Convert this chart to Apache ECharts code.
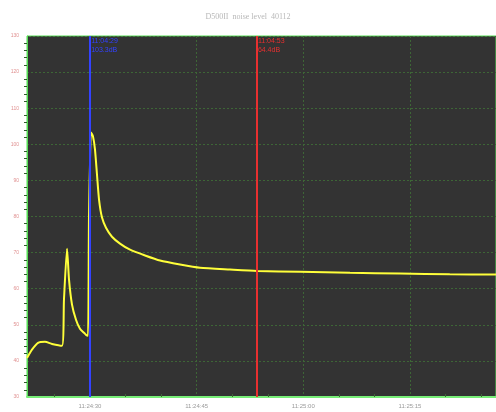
<!DOCTYPE html>
<html lang="en">
<head>
    <meta charset="UTF-8">
    <title>D500II noise level</title>
    <style>
        * { padding: 0; margin: 0; }
        html, body { background: #fff; }
        .box { width: 496px; height: 412px; }
    </style>
</head>
<body>
    <div class="box" id="myChart"></div>
    <script src="https://cdn.jsdelivr.net/npm/echarts@6/dist/echarts.min.js"></script>
    <script>
        // seconds after 11:24:00
        let times = [21.14, 21.84, 22.69, 23.67, 24.66, 26.06, 26.34, 26.77, 27.05, 27.47, 28.03, 28.59,
            29.16, 29.44, 29.72, 29.86, 30.14, 30.42, 30.70, 30.98, 31.27, 31.69, 32.25, 33.09, 34.22,
            35.63, 37.74, 39.85, 42.66, 45.47, 49.69, 53.49, 59.54, 66.57, 73.6, 80.6, 87.1];
        let levels = [40.8, 43.1, 45.0, 45.3, 44.7, 44.2, 57.0, 71.1, 62.5, 55.6, 51.4, 48.9,
            47.8, 47.2, 47.0, 80.0, 103.3, 102.2, 98.6, 91.7, 84.7, 79.7, 76.9, 74.4, 72.5,
            70.8, 69.2, 67.8, 66.7, 65.8, 65.3, 64.9, 64.7, 64.4, 64.2, 64.0, 63.9];
        let xLabelValues = [30, 45, 60, 75];
        let xLabelTexts = ["11:24:30", "11:24:45", "11:25:00", "11:25:15"];
        let xMinorTicks = [25, 35, 40, 50, 55, 65, 70, 80, 85];
        let cursorTimes = [29.95, 53.4];
        let cursorTexts = ["11:04:29\n103.3dB", "11:04:53\n64.4dB"];
        let cursorColors = ["#3342ff", "#e83030"];

        let xMin = 21.14, xMax = 87.1;

        let myChart = echarts.init(document.getElementById('myChart'));
        let option = {
            backgroundColor: "#ffffff",
            animation: false,
            title: {
                text: "D500II  noise level  40112",
                left: "center",
                top: 8,
                textStyle: {
                    color: "#b8b8b8",
                    fontFamily: "Liberation Serif",
                    fontWeight: "normal",
                    fontSize: 8
                }
            },
            grid: {
                left: 27,
                right: 0,
                top: 36,
                bottom: 15,
                show: true,
                backgroundColor: "#333333",
                borderColor: "#55dd55",
                borderWidth: 1
            },
            xAxis: [{
                    type: "value",
                    min: xMin,
                    max: xMax,
                    axisLine: { lineStyle: { color: "#77ee77", width: 2 } },
                    axisTick: { show: false, customValues: xLabelValues },
                    axisLabel: {
                        customValues: xLabelValues,
                        color: "#9a9a9a",
                        fontSize: 6,
                        margin: 6,
                        formatter: function (v) {
                            return xLabelTexts[xLabelValues.indexOf(v)];
                        }
                    },
                    splitLine: {
                        show: true,
                        lineStyle: { color: "#3d6636", type: [2, 2], width: 1 }
                    }
                },
                {
                    type: "value",
                    min: xMin,
                    max: xMax,
                    position: "bottom",
                    axisLine: { show: false },
                    axisTick: {
                        customValues: xMinorTicks,
                        inside: true,
                        length: 3,
                        lineStyle: { color: "#3d6636" }
                    },
                    axisLabel: { show: false },
                    splitLine: { show: false }
                }
            ],
            yAxis: {
                type: "value",
                min: 30,
                max: 130,
                interval: 10,
                axisLine: { show: true, lineStyle: { color: "#55dd55", width: 1 } },
                axisTick: { show: false },
                minorTick: {
                    show: true,
                    splitNumber: 5,
                    length: 3,
                    lineStyle: { color: "#2f5a2a" }
                },
                axisLabel: {
                    color: "#e09090",
                    fontSize: 5,
                    margin: 8
                },
                splitLine: {
                    show: true,
                    lineStyle: { color: "#3d6636", type: [2, 2], width: 1 }
                }
            },
            series: [{
                    type: "line",
                    data: times.map(function (t, i) { return [t, levels[i]]; }),
                    symbol: "none",
                    smooth: 0.2,
                    lineStyle: { color: "#ffff3a", width: 2 },
                    z: 3
                },
                {
                    type: "line",
                    data: [],
                    markLine: {
                        silent: true,
                        symbol: "none",
                        label: { show: false },
                        data: cursorTimes.map(function (t, i) {
                            return {
                                xAxis: t,
                                lineStyle: { color: cursorColors[i], width: 2, type: "solid" }
                            };
                        })
                    },
                    markPoint: {
                        silent: true,
                        symbol: "rect",
                        symbolSize: 1,
                        itemStyle: { color: "transparent" },
                        data: cursorTimes.map(function (t, i) {
                            return {
                                coord: [t, 130],
                                label: {
                                    show: true,
                                    position: [2, 1],
                                    align: "left",
                                    verticalAlign: "top",
                                    color: cursorColors[i],
                                    fontSize: 7,
                                    lineHeight: 9,
                                    fontFamily: "Liberation Sans",
                                    formatter: cursorTexts[i]
                                }
                            };
                        })
                    },
                    z: 4
                }
            ]
        };
        myChart.setOption(option, true);
    </script>
</body>
</html>
